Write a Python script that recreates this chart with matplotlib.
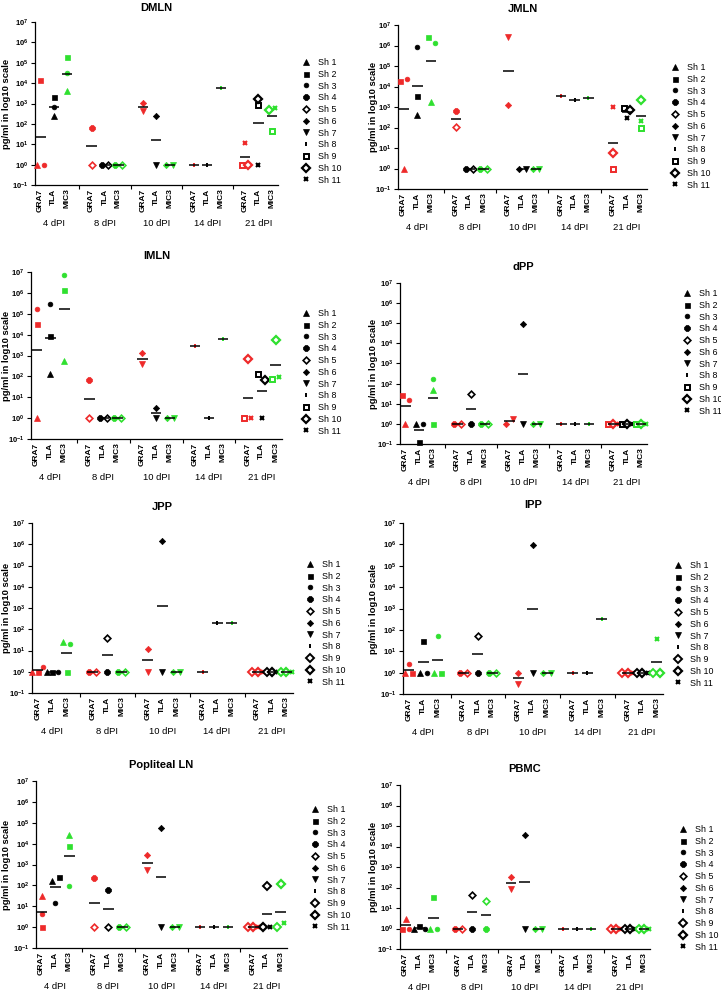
import numpy as np
import matplotlib
matplotlib.use("Agg")
import matplotlib.pyplot as plt
from matplotlib.lines import Line2D
from matplotlib.ticker import NullLocator, FixedLocator
from matplotlib.transforms import blended_transform_factory

plt.rcParams['font.family'] = ['Liberation Sans', 'DejaVu Sans']
plt.rcParams['mathtext.fontset'] = 'custom'
plt.rcParams['mathtext.rm'] = 'Liberation Sans'
plt.rcParams['mathtext.bf'] = 'Liberation Sans:bold'

W, H = 721, 992

DAYS = ['4 dPI', '8 dPI', '10 dPI', '14 dPI', '21 dPI']
ANTIGENS = ['GRA7', 'TLA', 'MIC3']
SHEEP = ['Sh %d' % i for i in range(1, 12)]
# day index for each sheep (Sh1..Sh11)
SHEEP_DAY = [0, 0, 0, 1, 1, 2, 2, 3, 4, 4, 4]

# pg/ml values, one per sheep (Sh1..Sh11); 1 = not detected
DMLN_GRA7 = [1, 13500, 1, 65, 1, 1050, 440, 1, 1, 1, 11.5]
DMLN_TLA = [240, 2100, 660, 1, 1, 240, 1, 1, 850, 1700, 1]
DMLN_MIC3 = [4300, 186000, 32000, 1, 1, 1, 1, 6000, 43, 500, 630]

JMLN_GRA7 = [1, 19000, 23000, 630, 105, 1200, 2.7e6, 3500, 1, 5.9, 1050]
JMLN_TLA = [420, 3500, 810000, 1, 1, 1, 1, 2200, 860, 710, 300]
JMLN_MIC3 = [1800, 2.5e6, 1.4e6, 1, 1, 1, 1, 2750, 91, 2200, 215]

IMLN_GRA7 = [1, 31000, 178000, 70, 1, 1250, 380, 3000, 1, 700, 1]
IMLN_TLA = [135, 9000, 285000, 1, 1, 3, 1, 1, 135, 68, 1]
IMLN_MIC3 = [560, 1.36e6, 7e6, 1, 1, 1, 1, 6200, 79, 5400, 95]

DPP_GRA7 = [1, 27, 15, 1, 1, 1, 1.8, 1, 1, 1, 1]
DPP_TLA = [1, 0.12, 1, 1, 29, 93000, 1, 1, 1, 1, 1]
DPP_MIC3 = [46, 1, 175, 1, 1, 1, 1, 1, 1, 1, 1]

JPP_GRA7 = [1, 1, 1.7, 1, 1, 11.5, 1, 1, 1, 1, 1]
JPP_TLA = [1, 1, 1, 1, 37, 1.48e6, 1, 200, 1, 1, 1]
JPP_MIC3 = [24, 1, 20, 1, 1, 1, 1, 190, 1, 1, 1]

IPP_GRA7 = [1, 1, 2.4, 1, 1, 1, 0.3, 1, 1, 1, 1]
IPP_TLA = [1, 29, 1, 1, 50, 930000, 1, 1, 1, 1, 1]
IPP_MIC3 = [1, 1, 52, 1, 1, 1, 1, 310, 1, 1, 36]

POP_GRA7 = [32, 1, 4.4, 215, 1, 2760, 545, 1, 1, 1, 1]
POP_TLA = [155, 240, 14.5, 57, 1, 58000, 1, 1, 89, 1, 1]
POP_MIC3 = [27000, 7300, 89, 1, 1, 1, 1, 1, 1, 115, 1.5]

PBMC_GRA7 = [3, 1, 1, 1, 1, 340, 85, 1, 1, 1, 1]
PBMC_TLA = [1, 1.4, 1, 1, 42, 37000, 1, 1, 1, 1, 1]
PBMC_MIC3 = [1, 36, 1, 1, 21, 1, 1, 1, 1, 1, 1]

TITLES = ['DMLN', 'JMLN', 'IMLN', 'dPP', 'JPP', 'IPP', 'Popliteal LN', 'PBMC']
PANEL_DATA = [
    (DMLN_GRA7, DMLN_TLA, DMLN_MIC3),
    (JMLN_GRA7, JMLN_TLA, JMLN_MIC3),
    (IMLN_GRA7, IMLN_TLA, IMLN_MIC3),
    (DPP_GRA7, DPP_TLA, DPP_MIC3),
    (JPP_GRA7, JPP_TLA, JPP_MIC3),
    (IPP_GRA7, IPP_TLA, IPP_MIC3),
    (POP_GRA7, POP_TLA, POP_MIC3),
    (PBMC_GRA7, PBMC_TLA, PBMC_MIC3),
]
# panels whose Sh 9 symbol is a diamond instead of a square
SH9_DIAMOND = {'JPP', 'IPP', 'Popliteal LN', 'PBMC'}

# layout in pixels: left, top, bottom, right, title_y, legend_x, legend_y, ylabel_x
LAYOUT = [
    (35, 22, 185, 278, 8, 301, 58, 7),
    (398, 25, 189, 647, 9, 670, 63, 373),
    (31, 272, 439, 282, 256, 301, 309, 7),
    (400, 283, 444, 647, 267, 682, 289, 373),
    (32, 523, 693, 293, 507, 305, 560, 7),
    (403, 523, 694, 663, 505, 673, 561, 373),
    (36, 781, 948, 287, 765, 310, 805, 7),
    (400, 785, 949, 650, 769, 678, 825, 373),
]

COLORS = ['#ee2a2a', '#000000', '#2fe02f']
GROUP_STEP = 3.8


def marker_style(sheep_idx, panel):
    # (marker, size, open face, edge width)
    styles = [
        ('^', 4.0, False, 0.5),
        ('s', 3.6, False, 0.5),
        ('o', 3.4, False, 0.5),
        ('8', 4.6, False, 0.5),
        ('D', 3.4, True, 1.2),
        ('D', 3.2, False, 0.5),
        ('v', 4.0, False, 0.5),
        ('|', 3.2, False, 1.4),
        ('s', 3.6, True, 1.4),
        ('D', 3.6, True, 1.6),
        ('x', 3.2, False, 1.5),
    ]
    m = styles[sheep_idx]
    if sheep_idx == 8 and panel in SH9_DIAMOND:
        m = ('D', 3.6, True, 1.4)
    return m


def spread_offsets(vals):
    """Spread points with close values sideways like a column scatter."""
    logs = np.log10(vals)
    order = np.argsort(logs, kind='stable')
    clusters = []
    for i in order:
        if clusters and logs[i] - logs[clusters[-1][-1]] < 0.3:
            clusters[-1].append(i)
        else:
            clusters.append([i])
    offs = np.zeros(len(vals))
    for c in clusters:
        c = sorted(c)
        n = len(c)
        step = 0.5 if n == 2 else 0.38
        for k, i in enumerate(c):
            offs[i] = (k - (n - 1) / 2) * step
    return offs


def draw_panel(fig, title, data, lay):
    left, top, bottom, right, title_y, leg_x, leg_y, ylab_x = lay
    ax = fig.add_axes([left / W, 1 - bottom / H, (right - left) / W, (bottom - top) / H])
    ax.set_yscale('log')
    ax.set_ylim(0.1, 1e7)
    ax.set_xlim(-0.4, 4 * GROUP_STEP + 2 + 0.45)

    cat_pos, cat_lab = [], []
    for g in range(len(DAYS)):
        sheep = [s for s in range(11) if SHEEP_DAY[s] == g]
        for a, ant in enumerate(ANTIGENS):
            x0 = g * GROUP_STEP + a
            cat_pos.append(x0)
            cat_lab.append(ant)
            vals = np.array([data[a][s] for s in sheep], dtype=float)
            offs = spread_offsets(vals)
            col = COLORS[a]
            for s, v, o in zip(sheep, vals, offs):
                mk, ms, is_open, mew = marker_style(s, title)
                ax.plot(x0 + o, v, linestyle='none', marker=mk, markersize=ms,
                        markerfacecolor='white' if is_open else col,
                        markeredgecolor=col, markeredgewidth=mew, zorder=3,
                        clip_on=False)
            gmean = 10 ** np.mean(np.log10(vals))
            ax.plot([x0 - 0.38, x0 + 0.38], [gmean, gmean], color='black',
                    lw=1.1, zorder=4, solid_capstyle='butt')

    for sp in ['top', 'right']:
        ax.spines[sp].set_visible(False)
    for sp in ['left', 'bottom']:
        ax.spines[sp].set_linewidth(0.9)

    ax.yaxis.set_major_locator(FixedLocator([10.0 ** k for k in range(-1, 8)]))
    ax.yaxis.set_minor_locator(NullLocator())
    ax.set_yticklabels([r'$\mathbf{10^{%d}}$' % k for k in range(-1, 8)])
    ax.tick_params(axis='y', direction='out', length=3, width=0.8, labelsize=5.5, pad=1.5)

    bounds = [g * GROUP_STEP + 2.9 for g in range(len(DAYS) - 1)]
    ax.set_xticks(bounds)
    ax.set_xticklabels([''] * len(bounds))
    ax.tick_params(axis='x', which='major', direction='out', length=3, width=0.8)
    ax.set_xticks(cat_pos, minor=True)
    ax.set_xticklabels(cat_lab, minor=True, rotation=90, fontsize=6, fontweight='bold')
    ax.tick_params(axis='x', which='minor', length=0, pad=2.5)

    trans = blended_transform_factory(ax.transData, ax.transAxes)
    for g, day in enumerate(DAYS):
        ax.annotate(day, xy=(g * GROUP_STEP + 1, 0), xycoords=trans,
                    xytext=(0, -27.5), textcoords='offset points',
                    ha='center', va='center', fontsize=6.8)

    ax.set_ylabel('pg/ml in log10 scale', fontsize=6.8, fontweight='bold', va='center')
    ax.yaxis.set_label_coords((ylab_x - left) / (right - left), 0.5)

    fig.text((left + right) / 2 / W, 1 - title_y / H, title, ha='center', va='center',
             fontsize=8, fontweight='bold')

    handles = []
    for s in range(11):
        mk, ms, is_open, mew = marker_style(s, title)
        handles.append(Line2D([], [], linestyle='none', marker=mk, markersize=ms,
                              markerfacecolor='white' if is_open else 'black',
                              markeredgecolor='black', markeredgewidth=mew))
    ax.legend(handles, SHEEP, loc='upper left', bbox_to_anchor=(leg_x / W, 1 - leg_y / H),
              bbox_transform=fig.transFigure, frameon=False, fontsize=6.4,
              handlelength=1.1, handletextpad=0.85, labelspacing=0.31,
              borderpad=0, borderaxespad=0)
    return ax


fig = plt.figure(figsize=(W / 100, H / 100), dpi=100)
for title, data, lay in zip(TITLES, PANEL_DATA, LAYOUT):
    draw_panel(fig, title, data, lay)

fig.savefig('out.png', dpi=100)
